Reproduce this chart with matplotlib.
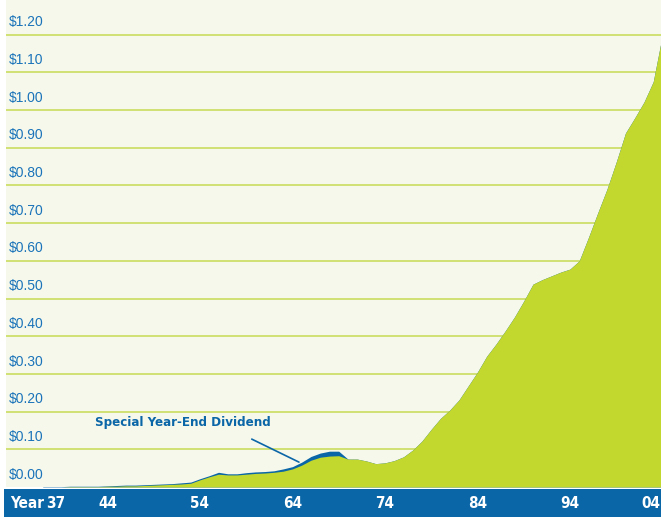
import matplotlib
matplotlib.use("Agg")
import matplotlib.pyplot as plt
from matplotlib.transforms import blended_transform_factory

years = list(range(1937, 2005))
regular = [0.000, 0.000, 0.000, 0.001, 0.001, 0.001, 0.001, 0.002, 0.002, 0.003,
           0.003, 0.004, 0.005, 0.006, 0.007, 0.008, 0.010,
           0.019, 0.027, 0.034, 0.032, 0.032, 0.034, 0.036, 0.037, 0.039, 0.042,
           0.048, 0.058, 0.071, 0.079, 0.082, 0.083,
           0.074, 0.074, 0.069, 0.062, 0.064, 0.070, 0.080, 0.098, 0.122, 0.153,
           0.182, 0.204, 0.231, 0.268, 0.305, 0.347, 0.379, 0.414, 0.451, 0.493,
           0.538, 0.550, 0.560, 0.570, 0.578, 0.600, 0.662, 0.727, 0.790, 0.862,
           0.939, 0.979, 1.021, 1.075, 1.200]
special = [0.001, 0.001, 0.001, 0.001, 0.001, 0.001, 0.001, 0.001, 0.002, 0.002,
           0.002, 0.002, 0.002, 0.002, 0.002, 0.003, 0.003,
           0.003, 0.003, 0.005, 0.003, 0.003, 0.004, 0.004, 0.004, 0.004, 0.006,
           0.006, 0.008, 0.010, 0.011, 0.013, 0.012] + [0.0] * 35

grid_values = [0.0, 0.1, 0.2, 0.3, 0.4, 0.5, 0.6, 0.7, 0.8, 0.9, 1.0, 1.1, 1.2]
grid_labels = ["$0.00", "$0.10", "$0.20", "$0.30", "$0.40", "$0.50", "$0.60",
               "$0.70", "$0.80", "$0.90", "$1.00", "$1.10", "$1.20"]
tick_years = [1944, 1954, 1964, 1974, 1984, 1994]
tick_labels = ["44", "54", "64", "74", "84", "94"]
first_label = "37"
last_label = "04"

GREEN = "#C2D82F"
BLUE = "#0B66A7"
LABEL_BLUE = "#1B74B9"
BG = "#F6F8EC"
GRID = "#CFDF6A"

W, H = 661, 519
fig = plt.figure(figsize=(W / 100, H / 100), dpi=100, facecolor="white")

ax = fig.add_axes([6 / W, (H - 487) / H, (W - 6) / W, 487 / H])
ax.set_facecolor(BG)
x0, x1 = 1933.03, 2003.84
ax.set_xlim(x0, x1)
ax.set_ylim(0, 1.2918)
for s in ax.spines.values():
    s.set_visible(False)
ax.set_xticks([])
ax.set_yticks([])

for v, lab in zip(grid_values, grid_labels):
    if v > 0:
        ax.axhline(v, color=GRID, lw=1.3, zorder=1)
    ax.annotate(lab, xy=(3 / 655, v), xycoords=("axes fraction", "data"),
                xytext=(0, 6), textcoords="offset points",
                ha="left", va="baseline", fontsize=10, color=LABEL_BLUE,
                family=["Liberation Sans", "DejaVu Sans"], zorder=5)

top = [r + s for r, s in zip(regular, special)]
ax.fill_between(years, 0, top, color=BLUE, lw=0, zorder=2)
ax.fill_between(years, 0, regular, color=GREEN, lw=0, zorder=3)

cond = dict(family=["DejaVu Sans"], stretch="condensed", fontweight="bold")
ax.text(1942.65, 0.170, "Special Year-End Dividend", ha="left", va="center",
        fontsize=9.5, color=BLUE, zorder=6, **cond)
ax.annotate("", xy=(1964.7, 0.066), xytext=(1959.6, 0.127),
            arrowprops=dict(arrowstyle="-", color=BLUE, lw=1.2,
                            shrinkA=0, shrinkB=0), zorder=6)

bar = fig.add_axes([4 / W, (H - 517) / H, (W - 4) / W, 28 / H])
bar.set_facecolor(BLUE)
for s in bar.spines.values():
    s.set_visible(False)
bar.set_xticks([])
bar.set_yticks([])

tr = blended_transform_factory(ax.transData, bar.transAxes)
font_kw = dict(fontsize=11, color="white", **cond)
bar.text(6 / (W - 4), 0.5, "Year", transform=bar.transAxes, ha="left",
         va="center", **font_kw)
bar.annotate(first_label, xy=(1937, 0.5), xycoords=tr, xytext=(9, 0),
             textcoords="offset points", ha="center", va="center", **font_kw)
for yr, lab in zip(tick_years, tick_labels):
    bar.text(yr, 0.5, lab, transform=tr, ha="center", va="center", **font_kw)
bar.text(2003.75, 0.5, last_label, transform=tr, ha="right", va="center", **font_kw)

fig.savefig("out.png", dpi=100, facecolor="white")
